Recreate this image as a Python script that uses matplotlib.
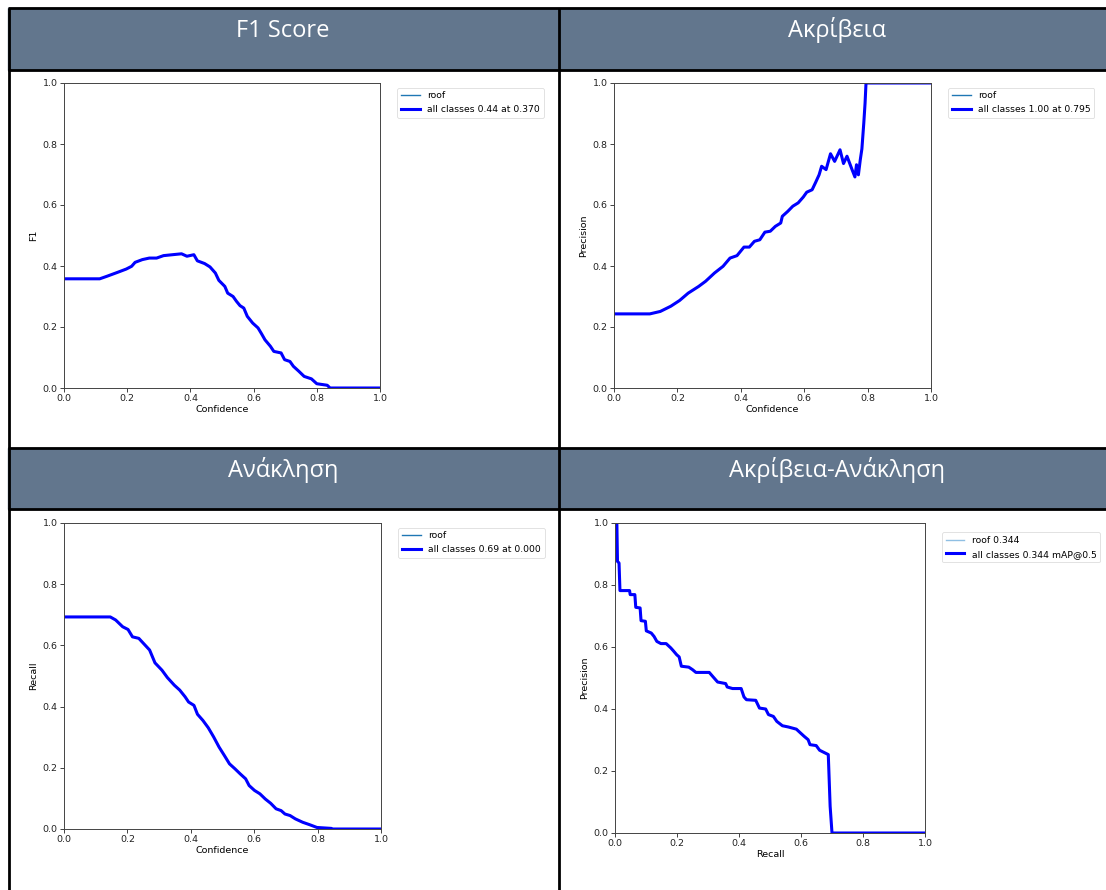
import numpy as np
import matplotlib.pyplot as plt
from matplotlib.patches import Rectangle

# --- Data ---

# F1 vs confidence
f1_conf = [0.0, 0.113, 0.135, 0.169, 0.197, 0.214, 0.225, 0.248, 0.27, 0.293, 0.315, 0.343,
           0.372, 0.389, 0.411, 0.422, 0.445, 0.462, 0.479, 0.49, 0.509, 0.518, 0.535, 0.546,
           0.557, 0.569, 0.58, 0.597, 0.614, 0.625, 0.636, 0.653, 0.664, 0.687, 0.698, 0.715,
           0.726, 0.743, 0.76, 0.783, 0.8, 0.833, 0.842, 1.0]
f1_vals = [0.358, 0.358, 0.366, 0.379, 0.39, 0.399, 0.412, 0.421, 0.426, 0.426, 0.434, 0.437,
           0.44, 0.432, 0.437, 0.417, 0.408, 0.397, 0.377, 0.353, 0.333, 0.311, 0.3, 0.284,
           0.27, 0.262, 0.235, 0.213, 0.197, 0.178, 0.158, 0.137, 0.12, 0.115, 0.093, 0.087,
           0.071, 0.055, 0.038, 0.03, 0.014, 0.009, 0.0, 0.0]

# Precision vs confidence
p_conf = [0.0, 0.113, 0.146, 0.179, 0.207, 0.234, 0.267, 0.289, 0.317, 0.344, 0.366, 0.388,
          0.41, 0.427, 0.443, 0.46, 0.476, 0.493, 0.509, 0.526, 0.531, 0.548, 0.564, 0.581,
          0.597, 0.608, 0.625, 0.636, 0.647, 0.655, 0.669, 0.683, 0.696, 0.713, 0.724, 0.735,
          0.751, 0.76, 0.765, 0.771, 0.777, 0.782, 0.788, 0.792, 0.795, 1.0]
p_vals = [0.243, 0.243, 0.251, 0.268, 0.287, 0.311, 0.333, 0.35, 0.377, 0.399, 0.426, 0.434,
          0.462, 0.462, 0.481, 0.486, 0.511, 0.514, 0.53, 0.541, 0.563, 0.579, 0.596, 0.607,
          0.626, 0.642, 0.65, 0.674, 0.699, 0.727, 0.716, 0.768, 0.743, 0.781, 0.736, 0.76,
          0.716, 0.692, 0.732, 0.699, 0.749, 0.784, 0.869, 0.934, 1.0, 1.0]

# Recall vs confidence
r_conf = [0.0, 0.146, 0.163, 0.185, 0.202, 0.216, 0.236, 0.253, 0.27, 0.287, 0.309, 0.326,
          0.348, 0.365, 0.382, 0.393, 0.41, 0.421, 0.438, 0.455, 0.472, 0.489, 0.506, 0.522,
          0.539, 0.556, 0.573, 0.584, 0.601, 0.618, 0.635, 0.652, 0.669, 0.685, 0.697, 0.713,
          0.73, 0.753, 0.775, 0.798, 0.843, 0.848, 1.0]
r_vals = [0.693, 0.693, 0.683, 0.661, 0.652, 0.628, 0.623, 0.604, 0.585, 0.543, 0.519, 0.495,
          0.47, 0.454, 0.432, 0.415, 0.404, 0.375, 0.355, 0.331, 0.301, 0.268, 0.24, 0.213,
          0.197, 0.18, 0.164, 0.142, 0.126, 0.115, 0.098, 0.084, 0.066, 0.06, 0.049, 0.044,
          0.033, 0.022, 0.014, 0.005, 0.002, 0.0, 0.0]

# Precision vs recall
pr_recall = [0.006, 0.008, 0.013, 0.016, 0.047, 0.049, 0.064, 0.067, 0.081, 0.084, 0.098, 0.101,
             0.117, 0.126, 0.135, 0.148, 0.165, 0.18, 0.188, 0.199, 0.207, 0.214, 0.238, 0.25,
             0.261, 0.304, 0.317, 0.331, 0.357, 0.362, 0.379, 0.407, 0.416, 0.424, 0.454, 0.466,
             0.486, 0.495, 0.511, 0.522, 0.54, 0.559, 0.585, 0.598, 0.61, 0.623, 0.629, 0.649,
             0.66, 0.688, 0.694, 0.7, 1.0]
pr_prec = [1.0, 0.876, 0.871, 0.782, 0.782, 0.769, 0.769, 0.728, 0.726, 0.685, 0.683, 0.652,
           0.645, 0.634, 0.618, 0.611, 0.611, 0.597, 0.588, 0.575, 0.568, 0.538, 0.535, 0.527,
           0.518, 0.518, 0.503, 0.487, 0.482, 0.471, 0.466, 0.466, 0.439, 0.43, 0.428, 0.403,
           0.4, 0.382, 0.376, 0.36, 0.346, 0.342, 0.335, 0.323, 0.312, 0.301, 0.285, 0.282,
           0.267, 0.253, 0.086, 0.0, 0.0]

headers = ['F1 Score', 'Ακρίβεια', 'Ανάκληση', 'Ακρίβεια-Ανάκληση']

W, H = 1106, 890
HEADER_COLOR = '#62768d'

fig = plt.figure(figsize=(W / 100, H / 100), dpi=100)
fig.patch.set_facecolor('white')

# --- Table background (pixel coordinates) ---
bg = fig.add_axes([0, 0, 1, 1])
bg.set_xlim(0, W)
bg.set_ylim(H, 0)
bg.axis('off')

bg.add_patch(Rectangle((8, 8), W - 8, 62, color=HEADER_COLOR, zorder=1))
bg.add_patch(Rectangle((8, 448), W - 8, 61, color=HEADER_COLOR, zorder=1))
for y in [8, 70, 448, 509]:
    bg.plot([8, W], [y, y], color='black', lw=2, zorder=2, solid_capstyle='butt')
bg.plot([9, 9], [8, H], color='black', lw=2, zorder=2, solid_capstyle='butt')
bg.plot([558.5, 558.5], [8, H], color='black', lw=2, zorder=2, solid_capstyle='butt')

font_fam = ['Open Sans', 'Noto Sans', 'DejaVu Sans']
for txt, (cx, by) in zip(headers, [(283, 37), (837, 37), (283, 477), (837, 477)]):
    bg.text(cx, by, txt, color='white', fontsize=17, ha='center', va='baseline',
            family=font_fam, zorder=3)


def px_axes(x0, x1, y0, y1):
    return fig.add_axes([x0 / W, 1 - y1 / H, (x1 - x0) / W, (y1 - y0) / H])


def style(ax, xlabel, ylabel):
    ax.set_xlim(0, 1)
    ax.set_ylim(0, 1)
    ax.set_xlabel(xlabel, fontsize=6.8, labelpad=1.5)
    ax.set_ylabel(ylabel, fontsize=6.8, labelpad=3)
    ax.tick_params(labelsize=6.8, length=3, width=0.6, pad=1.5, colors='#222222')
    for s in ax.spines.values():
        s.set_linewidth(0.7)
        s.set_color('#444444')


def legend(ax, anchor_y=1.0):
    leg = ax.legend(bbox_to_anchor=(1.04, anchor_y), loc='upper left', fontsize=6.7,
                    frameon=True, fancybox=True, framealpha=1, edgecolor='#dddddd',
                    borderaxespad=0.5)
    leg.get_frame().set_linewidth(0.6)


# F1 Score
ax1 = px_axes(64, 380, 83, 388)
ax1.plot(f1_conf, f1_vals, lw=1, color='#1f77b4', label='roof')
ax1.plot(f1_conf, f1_vals, lw=2.2, color='blue', label='all classes 0.44 at 0.370')
style(ax1, 'Confidence', 'F1')
legend(ax1)

# Precision
ax2 = px_axes(614, 931, 83, 388)
ax2.plot(p_conf, p_vals, lw=1, color='#1f77b4', label='roof')
ax2.plot(p_conf, p_vals, lw=2.2, color='blue', label='all classes 1.00 at 0.795')
style(ax2, 'Confidence', 'Precision')
legend(ax2)

# Recall
ax3 = px_axes(64, 381, 523, 829)
ax3.plot(r_conf, r_vals, lw=1, color='#1f77b4', label='roof')
ax3.plot(r_conf, r_vals, lw=2.2, color='blue', label='all classes 0.69 at 0.000')
style(ax3, 'Confidence', 'Recall')
legend(ax3)

# Precision-Recall
ax4 = px_axes(615, 925, 523, 833)
ax4.plot(pr_recall, pr_prec, lw=1, color='#8fbfe3', label='roof 0.344')
ax4.plot(pr_recall, pr_prec, lw=2.2, color='blue', label='all classes 0.344 mAP@0.5')
style(ax4, 'Recall', 'Precision')
legend(ax4, anchor_y=0.985)

fig.savefig('out.png', dpi=100)
